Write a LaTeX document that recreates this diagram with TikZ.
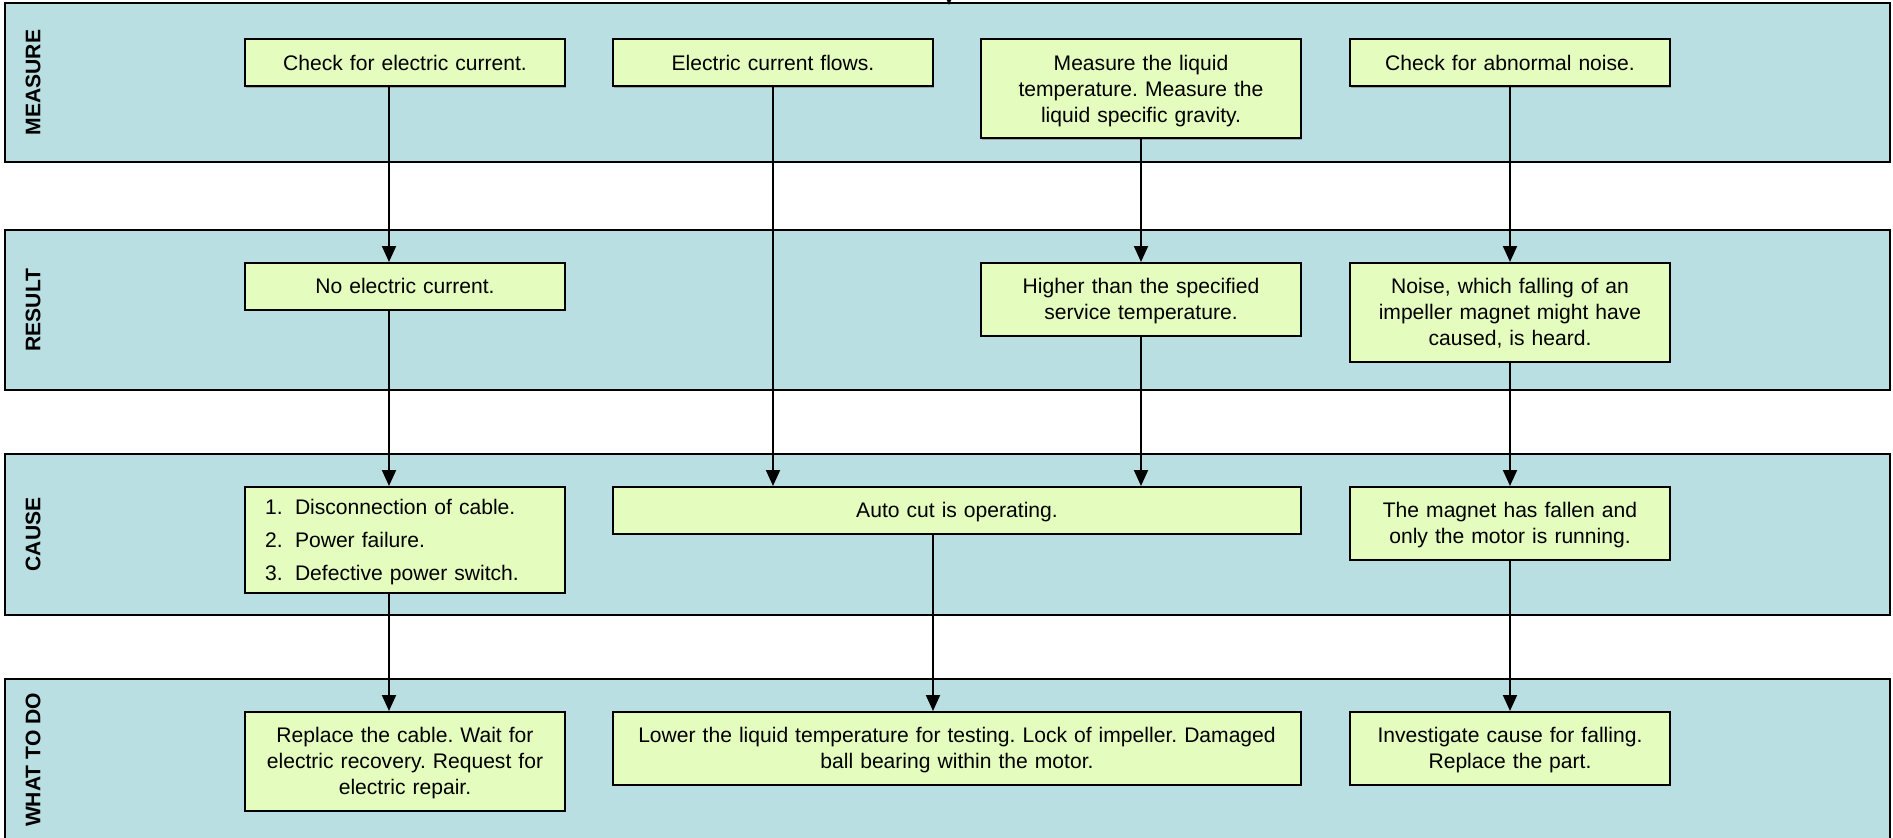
\documentclass[tikz,border=0pt]{standalone}
\usepackage{fontspec}
\setmainfont{Liberation Sans}
\usetikzlibrary{arrows.meta, shadows}
\hyphenpenalty=10000
\exhyphenpenalty=10000
\frenchspacing
\definecolor{bandclr}{RGB}{185,223,226}
\definecolor{boxclr}{RGB}{228,252,189}
\newcommand{\boxstrut}{\rule[-0.22\baselineskip]{0pt}{\baselineskip}}
\tikzset{
  band/.style={fill=bandclr, draw=black, line width=1.3pt},
  bandlabel/.style={rotate=90, font=\bfseries\fontsize{12pt}{14.75pt}\selectfont},
  stepbox/.style={draw=black, fill=boxclr, line width=1.1pt, anchor=north,
    font=\fontsize{12pt}{14.75pt}\selectfont, align=center,
    text width=5.6cm, inner xsep=0.4cm, inner ysep=0.21cm,
    execute at begin node=\boxstrut, execute at end node=\boxstrut,
    drop shadow={shadow xshift=0.02cm, shadow yshift=-0.03cm, fill=black!45, opacity=0.7}},
  widebox/.style={stepbox, text width=12.96cm},
  flow/.style={-{Triangle[width=0.28cm, length=0.32cm]}, line width=0.04cm},
}

\begin{document}
\begin{tikzpicture}[x=0.02cm, y=-0.02cm]
  % 画布大小
  \useasboundingbox (0,0) rectangle (1893,838);
  \clip (0,0) rectangle (1893,838);

  % 四个分区及竖排标题
  \foreach \lab/\ytop/\ybot [count=\i] in
  {
    MEASURE/3/162,
    RESULT/230/390,
    CAUSE/454/615,
    WHAT TO DO/679/841}
  {
    \draw[band] (5,\ytop) rectangle (1890,\ybot);
    \node[bandlabel] (lbl\i) at (33,{(\ytop+\ybot)/2}) {\lab};
  }

  % MEASURE
  \node[stepbox] (m1) at (405,38.5) {Check for electric current.};
  \node[stepbox] (m2) at (773,38.5) {Electric current flows.};
  \node[stepbox] (m3) at (1141,38.5) {Measure the liquid\\ temperature. Measure the\\ liquid specific gravity.};
  \node[stepbox] (m4) at (1510,38.5) {Check for abnormal noise.};

  % RESULT
  \node[stepbox] (r1) at (405,262) {No electric current.};
  \node[stepbox] (r3) at (1141,262) {Higher than the specified\\ service temperature.};
  \node[stepbox] (r4) at (1510,262) {Noise, which falling of an\\ impeller magnet might have\\ caused, is heard.};

  % CAUSE
  \node[stepbox, align=left, inner ysep=0.14cm] (c1) at (405,486)
  {\makebox[0.6cm][l]{1.}Disconnection of cable.\\[0.14cm]
   \makebox[0.6cm][l]{2.}Power failure.\\[0.14cm]
   \makebox[0.6cm][l]{3.}Defective power switch.};
  \node[widebox] (c2) at (957,486) {Auto cut is operating.};
  \node[stepbox] (c4) at (1510,486) {The magnet has fallen and\\ only the motor is running.};

  % WHAT TO DO
  \node[stepbox] (w1) at (405,711) {Replace the cable. Wait for\\ electric recovery. Request for\\ electric repair.};
  \node[widebox] (w2) at (957,711) {Lower the liquid temperature for testing. Lock of impeller. Damaged\\ ball bearing within the motor.};
  \node[stepbox] (w4) at (1510,711) {Investigate cause for falling.\\ Replace the part.};

  % 偏离中心的竖线位置
  \coordinate (x1) at (389,0);
  \coordinate (x2) at (933,0);

  % 第一列
  \draw[flow] (m1.south -| x1) -- (r1.north -| x1);
  \draw[flow] (r1.south -| x1) -- (c1.north -| x1);
  \draw[flow] (c1.south -| x1) -- (w1.north -| x1);
  % 第二、三列
  \draw[flow] (m2.south) -- (c2.north -| m2.south);
  \draw[flow] (m3.south) -- (r3.north);
  \draw[flow] (r3.south) -- (c2.north -| r3.south);
  \draw[flow] (c2.south -| x2) -- (w2.north -| x2);
  % 第四列
  \foreach \a/\b in {m4/r4, r4/c4, c4/w4}
    \draw[flow] (\a.south) -- (\b.north);

  % 顶部被截断的箭头
  \coordinate (stub) at (949,-30);
  \coordinate (stubend) at (949,5);
  \draw[flow] (stub) -- (stubend);
\end{tikzpicture}
\end{document}
